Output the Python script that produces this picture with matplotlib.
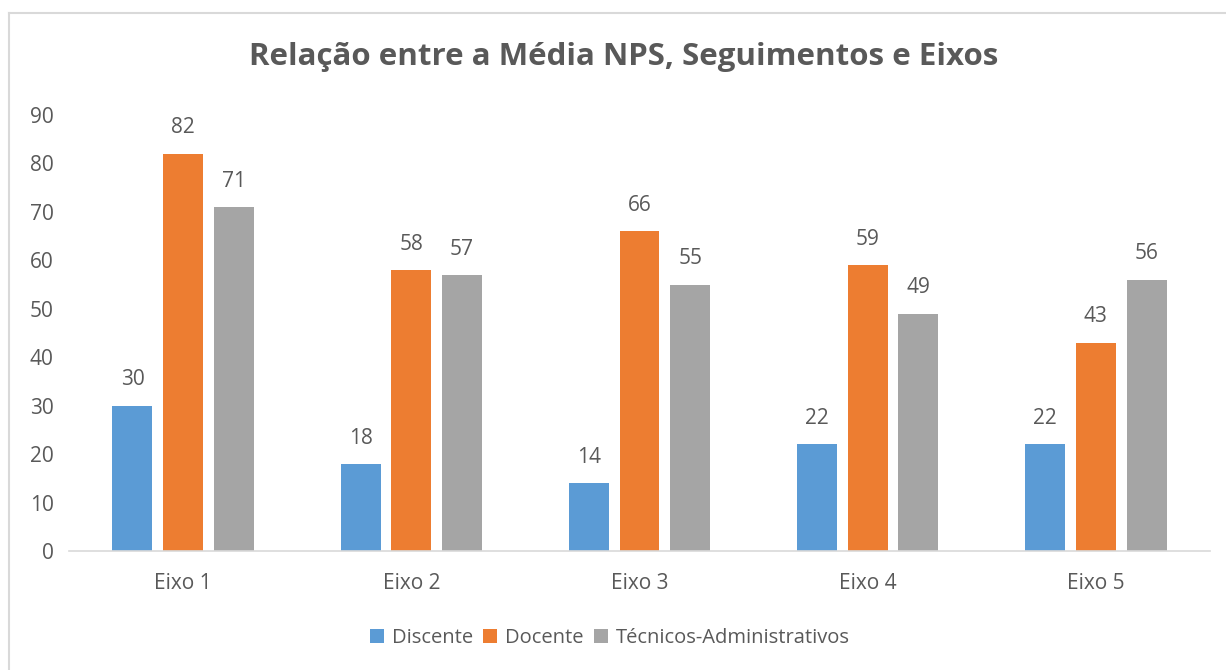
import numpy as np
import matplotlib.pyplot as plt
from matplotlib.lines import Line2D

# Data
eixos = ["Eixo 1", "Eixo 2", "Eixo 3", "Eixo 4", "Eixo 5"]
discente = [30, 18, 14, 22, 22]
docente = [82, 58, 66, 59, 43]
tecnicos = [71, 57, 55, 49, 56]

series = ["Discente", "Docente", "Técnicos-Administrativos"]
colors = ["#5B9BD5", "#ED7D31", "#A5A5A5"]
text_color = "#595959"

plt.rcParams['font.family'] = ['Open Sans', 'DejaVu Sans']

fig = plt.figure(figsize=(12.26, 6.7), dpi=100)
ax = fig.add_axes([69 / 1226, 1 - 551 / 670, (1210 - 69) / 1226, (551 - 115) / 670])

x = np.arange(len(eixos))
width = 0.175
step = 0.222

for i, (vals, name, c) in enumerate(zip([discente, docente, tecnicos], series, colors)):
    bars = ax.bar(x + (i - 1) * step, vals, width, color=c, label=name)
    for b, v in zip(bars, vals):
        ax.annotate(str(v), (b.get_x() + b.get_width() / 2, v), xytext=(0, 11),
                    textcoords="offset points", ha="center", va="bottom",
                    fontsize=15, color=text_color)

ax.set_xlim(-0.5, len(eixos) - 0.5)
ax.set_ylim(0, 90)
ax.set_yticks(range(0, 91, 10))
ax.set_xticks(x)
ax.set_xticklabels(eixos)
ax.tick_params(axis="both", length=0, labelsize=15, labelcolor=text_color)
ax.tick_params(axis="x", pad=16)
ax.tick_params(axis="y", pad=11)

for s in ["top", "right", "left"]:
    ax.spines[s].set_visible(False)
ax.spines["bottom"].set_color("#D9D9D9")
ax.spines["bottom"].set_linewidth(1.2)

fig.text(624 / 1226, 1 - 57 / 670, "Relação entre a Média NPS, Seguimentos e Eixos",
         ha="center", va="center", fontsize=22.5, fontweight="bold", color=text_color)

fig.legend(loc="center", bbox_to_anchor=(610 / 1226, 1 - 638 / 670), ncol=3,
           frameon=False, fontsize=14.5, labelcolor=text_color,
           handlelength=0.7, handleheight=0.7, handletextpad=0.4, columnspacing=0.5)

# chart border (top and left edges visible)
fig.add_artist(Line2D([9 / 1226, 1.0], [1 - 13 / 670, 1 - 13 / 670],
                      transform=fig.transFigure, color="#D9D9D9", lw=1.5))
fig.add_artist(Line2D([9 / 1226, 9 / 1226], [0, 1 - 13 / 670],
                      transform=fig.transFigure, color="#D9D9D9", lw=1.5))

fig.savefig("out.png", dpi=100, facecolor="white")
